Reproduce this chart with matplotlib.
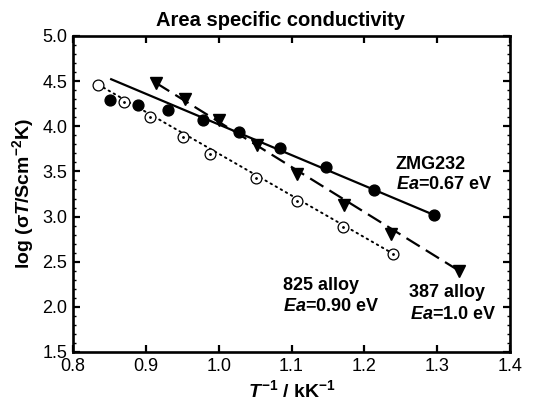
import matplotlib
matplotlib.use("Agg")
import matplotlib.pyplot as plt
from matplotlib.ticker import MultipleLocator, FormatStrFormatter

plt.rcParams['font.family'] = ['Liberation Sans', 'DejaVu Sans']
plt.rcParams['mathtext.fontset'] = 'custom'
plt.rcParams['mathtext.rm'] = 'Liberation Sans:bold'
plt.rcParams['mathtext.it'] = 'Liberation Sans:italic:bold'
plt.rcParams['mathtext.bf'] = 'Liberation Sans:bold'

# ZMG232 (filled circles)
zmg_x = [0.851, 0.889, 0.931, 0.978, 1.028, 1.084, 1.147, 1.213, 1.295]
zmg_y = [4.29, 4.235, 4.175, 4.07, 3.935, 3.757, 3.545, 3.29, 3.02]
zmg_fit_x = [0.851, 1.295]
zmg_fit_y = [4.526, 3.02]

# 825 alloy (open circles)
a825_x = [0.835, 0.870, 0.906, 0.951, 0.988, 1.051, 1.108, 1.171, 1.240]
a825_y = [4.46, 4.27, 4.10, 3.885, 3.69, 3.43, 3.175, 2.886, 2.586]
a825_fit_x = [0.835, 1.240]
a825_fit_y = [4.46, 2.586]

# 387 alloy (down triangles)
a387_x = [0.914, 0.954, 1.001, 1.052, 1.107, 1.172, 1.236, 1.330]
a387_y = [4.48, 4.30, 4.07, 3.79, 3.47, 3.13, 2.81, 2.40]
a387_fit_x = [0.914, 1.330]
a387_fit_y = [4.48, 2.40]

fig = plt.figure(figsize=(5.39, 4.12), dpi=100)
ax = fig.add_axes([73/539, 1-352/412, (510-73)/539, (352-36)/412])

ax.plot(zmg_fit_x, zmg_fit_y, color='black', lw=1.6, solid_capstyle='butt')
ax.plot(a387_fit_x, a387_fit_y, color='black', lw=1.6, dashes=(7, 3.2))
ax.plot(a825_fit_x, a825_fit_y, color='black', lw=1.4, linestyle=(0, (0.8, 2.2)),
        dash_capstyle='round')

ax.plot(zmg_x, zmg_y, 'o', color='black', ms=7.8, mec='black', ls='none')
ax.plot(a825_x, a825_y, 'o', mfc='white', mec='black', mew=0.9, ms=7.8, ls='none')
ax.plot(a825_x[1:], a825_y[1:], '.', color='black', ms=2, ls='none')
ax.plot(a387_x, a387_y, 'v', color='black', ms=8.5, ls='none')

ax.set_xlim(0.8, 1.4)
ax.set_ylim(1.5, 5.0)
ax.xaxis.set_major_locator(MultipleLocator(0.1))
ax.yaxis.set_major_locator(MultipleLocator(0.5))
ax.yaxis.set_minor_locator(MultipleLocator(0.1))
ax.xaxis.set_major_formatter(FormatStrFormatter('%.1f'))
ax.yaxis.set_major_formatter(FormatStrFormatter('%.1f'))

ax.tick_params(which='both', direction='in', top=True, right=True,
               labelsize=13, width=1.6)
ax.tick_params(which='major', length=5, pad=4)
ax.tick_params(which='minor', length=2.5, width=1.0)
for s in ax.spines.values():
    s.set_linewidth(1.9)

ax.set_xlabel(r'$T^{-1}$ / kK$^{-1}$', fontsize=14, fontweight='bold', labelpad=3)
ax.set_ylabel(r'log (σ$T$/Scm$^{-2}$K)', fontsize=14, fontweight='bold', labelpad=5)
fig.text(281/539, 1-21/412, 'Area specific conductivity', ha='center', va='center',
         fontsize=14.5, fontweight='bold')

tk = dict(fontsize=13, fontweight='bold', va='center', ha='left')
ax.text(1.243, 3.58, 'ZMG232', **tk)
ax.text(1.244, 3.36, r'$Ea$=0.67 eV', **tk)
ax.text(1.088, 2.24, '825 alloy', **tk)
ax.text(1.089, 2.00, r'$Ea$=0.90 eV', **tk)
ax.text(1.261, 2.16, '387 alloy', **tk)
ax.text(1.263, 1.915, r'$Ea$=1.0 eV', **tk)

fig.savefig('out.png', dpi=100)
